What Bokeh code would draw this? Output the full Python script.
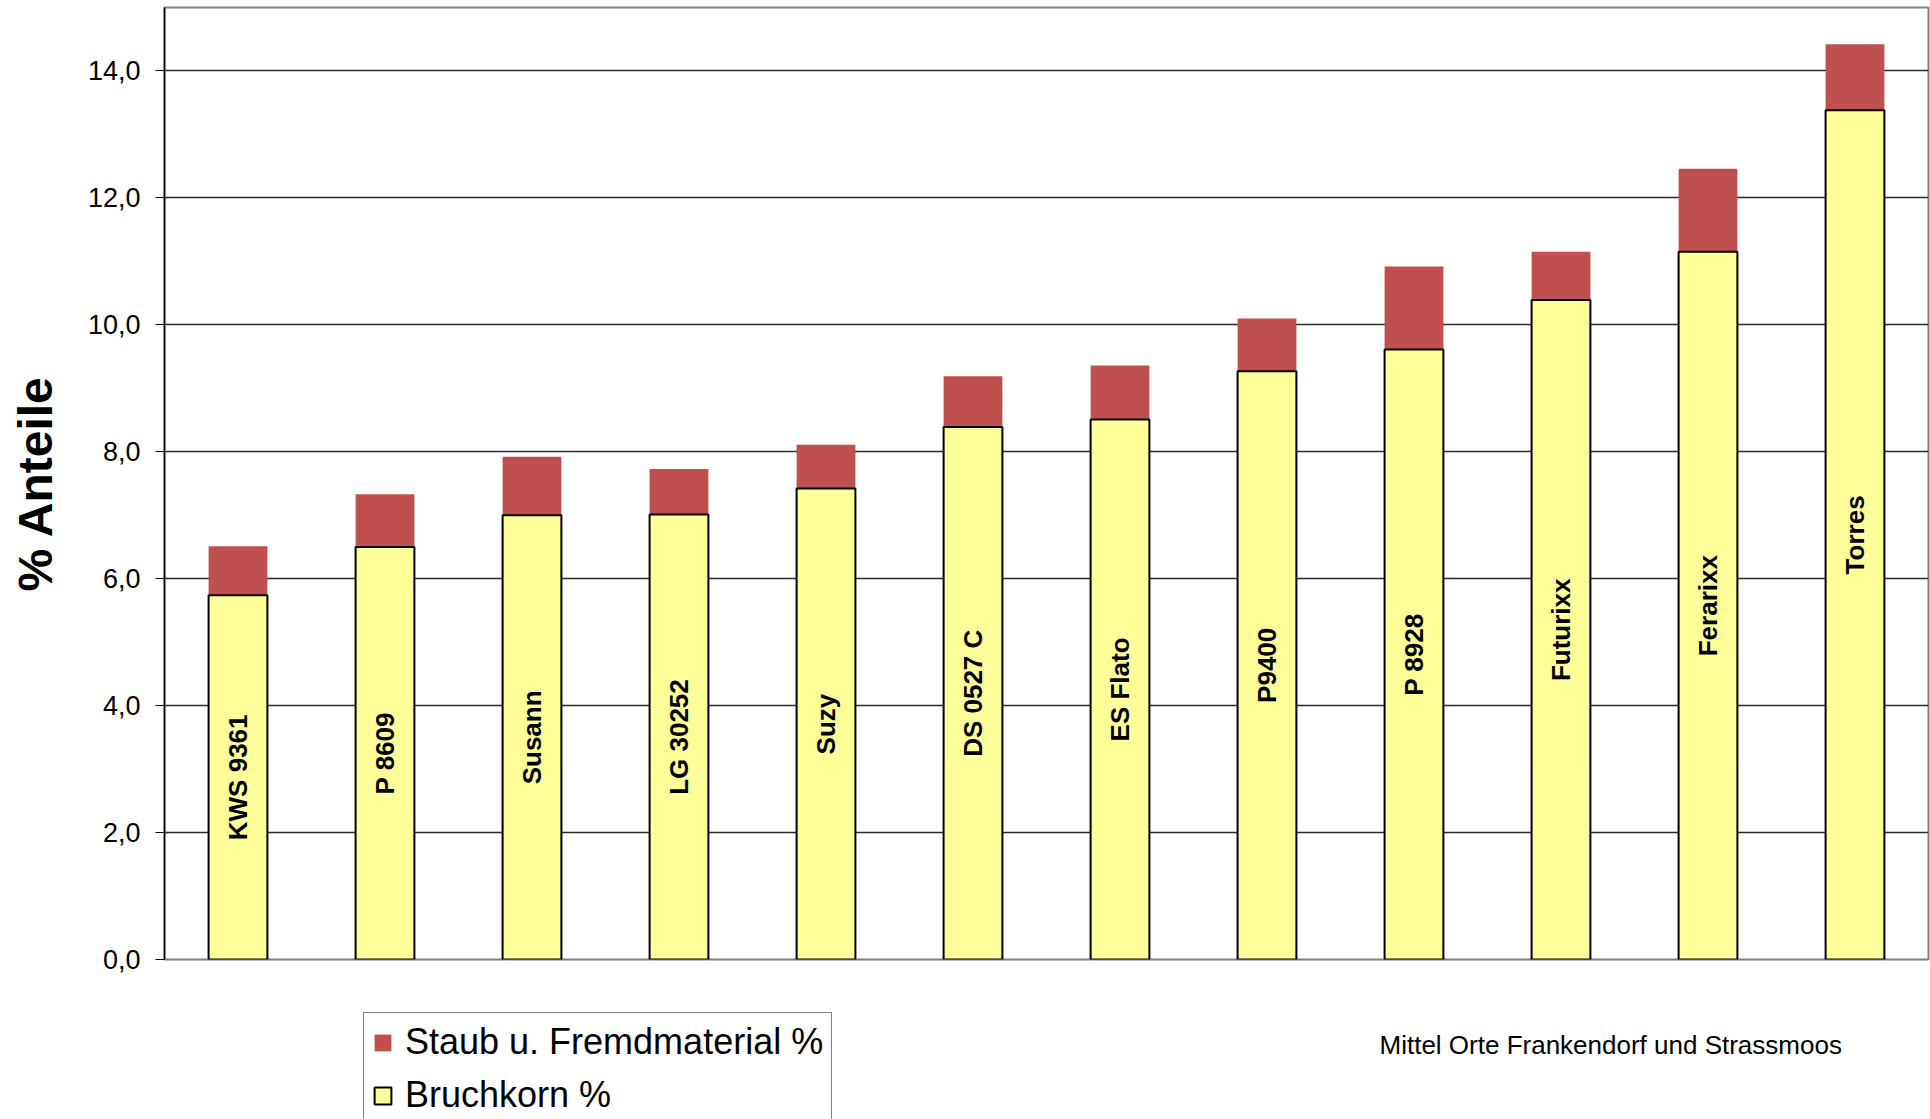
from bokeh.plotting import figure
from bokeh.layouts import column
from bokeh.models import (ColumnDataSource, FactorRange, Range1d, FixedTicker,
                          CustomJSTickFormatter, Legend, LegendItem, Label)
from bokeh.core.properties import value
from bokeh.embed import file_html
from bokeh.resources import INLINE

# ---- data ----
sorten = ["KWS 9361", "P 8609", "Susann", "LG 30252", "Suzy", "DS 0527 C",
          "ES Flato", "P9400", "P 8928", "Futurixx", "Ferarixx", "Torres"]
bruchkorn = [5.74, 6.50, 7.00, 7.01, 7.42, 8.39, 8.51, 9.27, 9.61, 10.39, 11.15, 13.38]
staub = [0.77, 0.83, 0.92, 0.72, 0.69, 0.80, 0.85, 0.83, 1.31, 0.76, 1.31, 1.04]
y_ticks = [0, 2, 4, 6, 8, 10, 12, 14]
series_names = ["Staub u. Fremdmaterial %", "Bruchkorn %"]
y_title = "% Anteile"
note = "Mittel Orte Frankendorf und Strassmoos"

FONT = "Liberation Sans"
RED = "#C0504D"
YELLOW = "#FFFF99"

total = [b + s for b, s in zip(bruchkorn, staub)]
mid = [b / 2 for b in bruchkorn]
src = ColumnDataSource(dict(x=sorten, bruch=bruchkorn, total=total, mid=mid))

# ---- main chart ----
P_H = 975
p = figure(width=1930, height=P_H, output_backend="svg", toolbar_location=None,
           x_range=FactorRange(*sorten, range_padding=0), y_range=Range1d(0, 15),
           min_border_left=164, min_border_right=2, min_border_top=7,
           min_border_bottom=P_H - 959)
p.background_fill_color = "white"
p.border_fill_color = "white"
p.outline_line_color = "#808080"
p.outline_line_width = 2

p.vbar(x="x", bottom="bruch", top="total", width=0.40, source=src,
       fill_color=RED, line_color=None)
p.vbar(x="x", bottom=0, top="bruch", width=0.40, source=src,
       fill_color=YELLOW, line_color="black", line_width=2)

p.text(x="x", y="mid", text="x", source=src, angle=1.5707963,
       text_align="center", text_baseline="middle",
       text_font=value(FONT), text_font_style="bold",
       text_font_size="26px", text_color="black")

p.xgrid.visible = False
p.ygrid.grid_line_color = "#2a2a2a"
p.ygrid.grid_line_width = 1.5
p.ygrid.ticker = FixedTicker(ticks=y_ticks)
p.xaxis.visible = False

yax = p.yaxis[0]
yax.ticker = FixedTicker(ticks=y_ticks)
yax.formatter = CustomJSTickFormatter(code="return tick.toFixed(1).replace('.', ',');")
yax.major_label_text_font = FONT
yax.major_label_text_font_size = "27px"
yax.major_label_text_color = "black"
yax.major_label_standoff = 15
yax.major_tick_in = 0
yax.major_tick_out = 9
yax.major_tick_line_color = "black"
yax.minor_tick_line_color = None
yax.axis_line_color = "black"
yax.axis_line_width = 1.5
yax.axis_label = y_title
yax.axis_label_text_font = FONT
yax.axis_label_text_font_style = "bold"
yax.axis_label_text_font_size = "48px"
yax.axis_label_text_color = "black"
yax.axis_label_standoff = 23

# ---- footer with legend and note ----
F_H = 1119 - P_H
f = figure(width=1930, height=F_H, output_backend="svg", toolbar_location=None,
           x_range=Range1d(0, 1930), y_range=Range1d(0, F_H),
           min_border=0, min_border_left=0, min_border_right=0,
           min_border_top=0, min_border_bottom=0)
f.axis.visible = False
f.grid.visible = False
f.outline_line_color = None
f.background_fill_color = "white"
f.border_fill_color = "white"

# hidden renderers that only supply the legend swatches
fsrc = ColumnDataSource(dict(x=bruchkorn, top=staub))
lr = f.vbar(x="x", top="top", width=1, source=fsrc,
            fill_color=RED, line_color=None, visible=False)
ly = f.vbar(x="x", top="top", width=1, source=fsrc,
            fill_color=YELLOW, line_color="black", line_width=2, visible=False)

legend = Legend(items=[LegendItem(label=series_names[0], renderers=[lr]),
                       LegendItem(label=series_names[1], renderers=[ly])],
                location=(199, -6), orientation="vertical",
                label_text_font=FONT, label_text_font_size="36px",
                label_text_color="black",
                glyph_width=21, glyph_height=21, label_standoff=12,
                spacing=11, padding=8, margin=0,
                border_line_color="black", border_line_width=1.5,
                background_fill_color="white", background_fill_alpha=1,
                inactive_fill_alpha=0, click_policy="none")
f.add_layout(legend, "center")

f.add_layout(Label(x=1215, y=F_H - 69, x_units="screen", y_units="screen", text=note,
                   text_font=FONT, text_font_size="26px", text_color="black",
                   text_baseline="middle"))

layout = column(p, f, spacing=0)
open("out.html", "w").write(file_html(layout, INLINE))
